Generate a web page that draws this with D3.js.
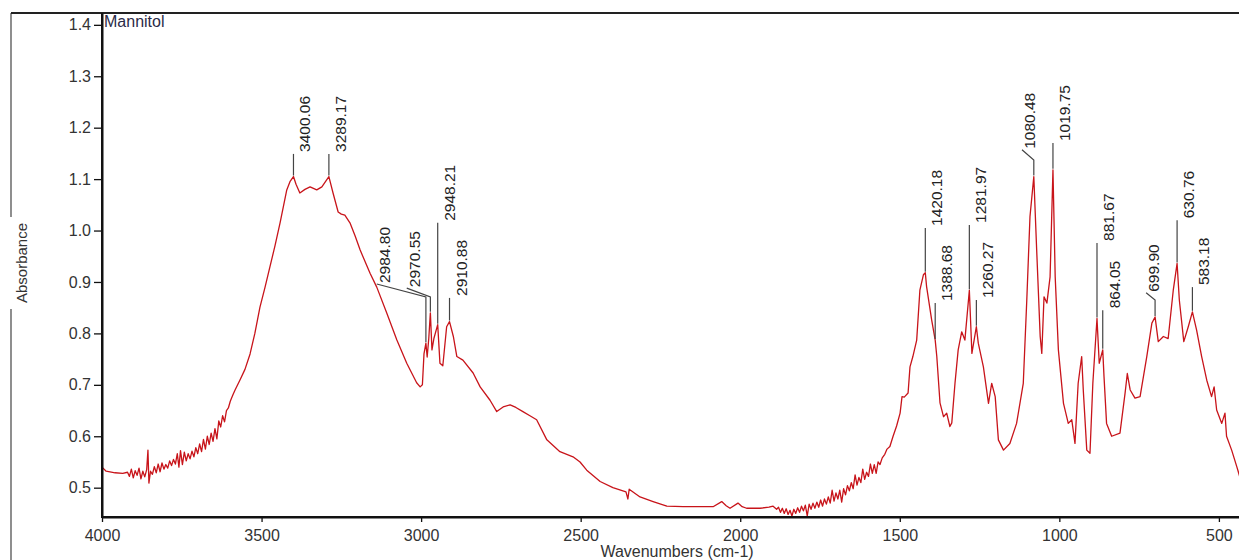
<!DOCTYPE html>
<html>
<head>
<meta charset="utf-8">
<style>
body { margin: 0; background: #fff; }
svg text { font-family: "Liberation Sans", Arial, sans-serif; }
</style>
</head>
<body>
<div id="chart"></div>
<script src="https://cdn.jsdelivr.net/npm/d3@7"></script>
<script>
// spectrum (cm-1, absorbance)
var wavenumbers = [4000,3987,3959,3935,
  3920,3914,3908,3902,3896,3890,3884,3878,3872,3866,3860,3856,3853,3848,3842,3836,3830,3824,3818,3812,3806,3800,
  3794,3788,3782,3776,3770,3764,3759,3754,3748,3742,3736,3730,3724,3718,3712,3706,3700,3694,3688,3682,3676,3670,
  3664,3658,3652,3646,3640,3634,3628,3622,3616,3610,3604,3598,3590,3583,3568,
  3552,3536,3521,3505,3489,3474,3458,3442,3421,3411,3400,3392,3380,3364,3348,3327,3311,3289,3276,3260,3250,3239,
  3223,3207,3191,3160,3139,3108,3076,3045,3014,3003,2996,2991,2985,2981,2976,2971,2966,2960,2948,2941,2932,2920,
  2911,2899,2888,2869,2837,2815,2784,2763,2743,2721,2703,2681,2659,2638,2606,2565,2524,2502,2481,2439,2399,2358,
  2352,2348,2314,2273,2230,2179,2126,2085,2058,2044,2032,2007,1994,1980,1938,1910,
  1897,1886,1880,1874,1868,1862,1856,1850,1844,1838,1832,1826,1820,1814,1808,1802,1796,1790,1784,1778,1772,1766,
  1760,1754,1748,1742,1736,1730,1724,1718,1712,1706,1700,1694,1688,1682,1676,1670,1664,1658,1652,1646,1640,1634,
  1628,1622,1616,1610,1604,1598,1592,1586,1580,1574,1568,1562,
  1555,1547,1540,1531,1521,1510,1499,1493,1486,1474,1468,1459,1447,1437,1426,1420,1416,1400,1389,1384,1374,1363,
  1353,1343,1337,1327,1317,1306,1296,1282,1274,1260,1254,1238,1222,1212,1201,1191,1175,1155,1134,1113,1102,1092,
  1080,1071,1060,1055,1048,1039,1029,1020,1013,1003,987,972,961,951,941,930,925,914,904,895,882,875,864,860,852,
  836,810,794,787,778,763,747,726,710,700,690,674,659,643,631,624,610,596,583,570,554,538,523,515,507,491,481,476,
  460,444,434];
var absorbance = [0.540,0.532,0.529,0.528,
  0.530,0.522,0.536,0.519,0.533,0.524,0.538,0.517,0.532,0.521,0.535,0.573,0.509,0.532,0.526,0.541,0.529,0.546,0.531,0.548,0.536,0.545,
  0.538,0.552,0.543,0.555,0.546,0.566,0.540,0.572,0.545,0.569,0.552,0.566,0.556,0.571,0.560,0.578,0.566,0.585,0.570,0.594,0.575,0.600,
  0.584,0.606,0.590,0.615,0.595,0.630,0.618,0.640,0.628,0.650,0.655,0.668,0.680,0.690,0.709,
  0.730,0.760,0.800,0.851,0.890,0.929,0.970,1.015,1.079,1.095,1.105,1.090,1.073,1.080,1.085,1.079,1.085,1.105,1.073,1.036,1.032,1.030,
  1.015,0.990,0.962,0.917,0.890,0.840,0.787,0.742,0.704,0.696,0.700,0.760,0.781,0.754,0.790,0.840,0.768,0.790,0.817,0.742,0.737,0.813,
  0.823,0.794,0.755,0.748,0.723,0.696,0.670,0.648,0.657,0.661,0.656,0.648,0.640,0.632,0.593,0.570,0.560,0.550,0.534,0.512,0.500,0.492,
  0.478,0.497,0.482,0.473,0.464,0.463,0.463,0.463,0.473,0.465,0.460,0.470,0.463,0.460,0.460,0.462,
  0.464,0.458,0.462,0.452,0.460,0.450,0.459,0.448,0.456,0.445,0.458,0.450,0.461,0.452,0.464,0.455,0.466,0.445,0.468,0.458,0.470,0.460,
  0.472,0.462,0.476,0.464,0.478,0.468,0.482,0.470,0.495,0.474,0.490,0.478,0.495,0.472,0.498,0.486,0.504,0.494,0.510,0.498,0.525,0.505,
  0.520,0.510,0.536,0.516,0.530,0.522,0.546,0.528,0.545,0.528,0.550,0.545,
  0.558,0.565,0.575,0.580,0.600,0.620,0.645,0.677,0.676,0.684,0.735,0.755,0.787,0.884,0.914,0.918,0.891,0.826,0.787,0.755,0.665,0.638,
  0.645,0.619,0.626,0.703,0.768,0.803,0.787,0.884,0.761,0.813,0.781,0.735,0.664,0.703,0.677,0.593,0.573,0.586,0.625,0.703,0.865,1.027,
  1.105,0.962,0.794,0.761,0.871,0.859,0.910,1.118,0.910,0.768,0.664,0.625,0.632,0.586,0.703,0.755,0.690,0.573,0.567,0.703,0.829,0.742,0.768,0.716,0.625,
  0.600,0.606,0.684,0.722,0.690,0.674,0.677,0.755,0.820,0.832,0.784,0.794,0.790,0.884,0.936,0.865,0.784,0.813,0.842,0.807,0.755,0.709,0.677,0.696,0.651,0.625,0.645,0.600,
  0.573,0.541,0.520];

// labelled peaks
var peakLabels = ["3400.06","3289.17","2984.80","2970.55","2948.21","2910.88","1420.18","1388.68","1281.97",
  "1260.27","1080.48","1019.75","881.67","864.05","699.90","630.76","583.18"];
var peakWn = [3400,3289,2985,2971,2948,2911,1420,1389,1282,1260,1080,1020,882,864,700,631,583];
var peakLevel = [1.149,1.149,0.871,0.871,1.015,0.869,1.005,0.859,1.011,0.865,1.137,1.170,0.976,0.845,0.865,1.020,0.890];
var peakTextWn = [3400,3289,3139,3045,2948,2911,1420,1389,1282,1260,1117,1020,882,864,728,631,583];
var peakTextLevel = [1.149,1.149,0.896,0.888,1.015,0.869,1.005,0.859,1.011,0.865,1.157,1.170,0.976,0.845,0.879,1.020,0.890];

var xTicks = [4000,3500,3000,2500,2000,1500,1000,500];
var xMinor = d3.range(4000, 400, -100);
var yTicks = [0.5,0.6,0.7,0.8,0.9,1.0,1.1,1.2,1.3,1.4];
var yMinor = d3.range(0.45, 1.42, 0.025);

var data = wavenumbers.map(function(w, i) { return {wn: w, a: absorbance[i]}; });

var width = 1239, height = 560;
var svg = d3.select("#chart").append("svg").attr("width", width).attr("height", height);

var x = d3.scaleLinear().domain([4000, 437]).range([102, 1239]);
var y = d3.scaleLinear().domain([0.443, 1.423]).range([517, 13]);

// outer frame
svg.append("line").attr("x1", 11).attr("x2", 11).attr("y1", 13).attr("y2", 560)
  .attr("stroke", "#444").attr("stroke-width", 1.2);
svg.append("line").attr("x1", 11).attr("x2", 1239).attr("y1", 13).attr("y2", 13)
  .attr("stroke", "#222").attr("stroke-width", 2);

svg.append("clipPath").attr("id", "plotclip").append("rect")
  .attr("x", 102).attr("y", 13).attr("width", 1239 - 102).attr("height", 517 - 13);

// spectrum
var line = d3.line().x(function(d) { return x(d.wn); }).y(function(d) { return y(d.a); });
svg.append("path").datum(data)
  .attr("clip-path", "url(#plotclip)")
  .attr("fill", "none").attr("stroke", "#c8141a").attr("stroke-width", 1.3)
  .attr("stroke-linejoin", "round")
  .attr("d", line);

// axes
var gy = svg.append("g").attr("transform", "translate(102,0)");
gy.call(d3.axisLeft(y).tickValues(yMinor).tickSize(5).tickFormat(""));
gy.call(d3.axisLeft(y).tickValues(yTicks).tickSize(8).tickSizeOuter(0).tickFormat(d3.format(".1f")));
var gx = svg.append("g").attr("transform", "translate(0,517)");
gx.call(d3.axisBottom(x).tickValues(xMinor).tickSize(3).tickFormat(""));
gx.call(d3.axisBottom(x).tickValues(xTicks).tickSize(5).tickSizeOuter(0).tickFormat(d3.format("d")));

svg.selectAll(".domain").attr("stroke", "#111").attr("stroke-width", 2);
svg.selectAll(".tick line").attr("stroke", "#111").attr("stroke-width", 1.3);
svg.selectAll(".tick text").attr("fill", "#333").style("font-size", "16px");
gx.selectAll(".tick text").attr("dy", "1.0em");

svg.append("line").attr("x1", 101).attr("x2", 1239).attr("y1", 517).attr("y2", 517)
  .attr("stroke", "#111").attr("stroke-width", 2);
svg.append("line").attr("x1", 102).attr("x2", 102).attr("y1", 13).attr("y2", 518)
  .attr("stroke", "#111").attr("stroke-width", 2);

// axis titles
var ab = svg.append("g").attr("transform", "translate(22,263) rotate(-90)");
ab.append("rect").attr("x", -46).attr("y", -12).attr("width", 92).attr("height", 20).attr("fill", "#fff");
ab.append("text").attr("text-anchor", "middle").attr("y", 5).attr("fill", "#333")
  .style("font-size", "15px").text("Absorbance");

svg.append("text").attr("x", 677).attr("y", 557).attr("text-anchor", "middle")
  .attr("fill", "#333").style("font-size", "16px").text("Wavenumbers (cm-1)");

svg.append("text").attr("x", 104).attr("y", 27).attr("fill", "#2b2b48")
  .style("font-size", "16px").text("Mannitol");

// peak markers
function peakHeight(w) {
  var best = data[0];
  data.forEach(function(d) { if (Math.abs(d.wn - w) < Math.abs(best.wn - w)) best = d; });
  return best.a;
}
var peaks = svg.append("g");
peakWn.forEach(function(w, i) {
  var px = x(w), top = y(peakLevel[i]);
  var tx = x(peakTextWn[i]), ty = y(peakTextLevel[i]);
  var pts = [[px, y(peakHeight(w)) - 1], [px, top]];
  var shifted = peakTextWn[i] !== w;
  if (shifted) pts.push([tx, ty]);
  peaks.append("path").attr("d", d3.line()(pts))
    .attr("fill", "none").attr("stroke", "#444").attr("stroke-width", 1.2);
  var bx = shifted ? tx + 13 : px + 17;
  var by = shifted ? ty - 1 : top - 2;
  peaks.append("text")
    .attr("transform", "translate(" + bx + "," + by + ") rotate(-90)")
    .attr("fill", "#222").style("font-size", "15.5px")
    .text(peakLabels[i]);
});
</script>
</body>
</html>
